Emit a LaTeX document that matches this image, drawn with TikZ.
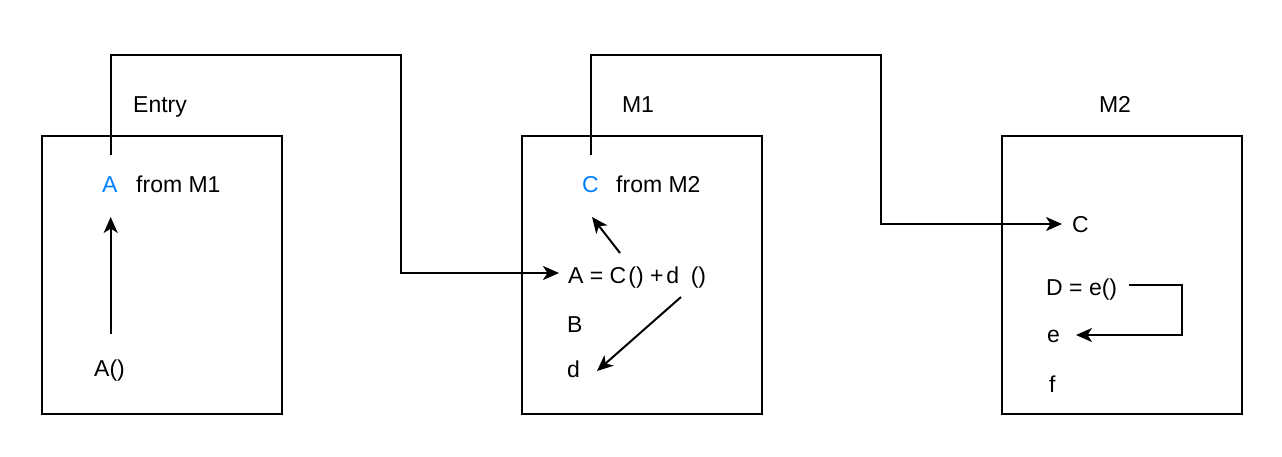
\documentclass[tikz,border=0pt]{standalone}
\usepackage{fontspec}
\setmainfont{Liberation Sans}
\usetikzlibrary{arrows.meta}
\definecolor{linkblue}{RGB}{0,127,255}
\tikzset{
  modbox/.style={draw, line width=2pt, anchor=north west, minimum width=240pt, minimum height=278pt, inner sep=0pt},
  txt/.style={anchor=base west, inner sep=0pt, font=\fontsize{23}{27}\selectfont},
  ttl/.style={anchor=base, inner sep=0pt, font=\fontsize{23}{27}\selectfont},
  conn/.style={line width=2pt},
  arr/.style={line width=2pt, -{Stealth[length=16pt,width=14pt,inset=4.5pt]}},
}
\begin{document}
\begin{tikzpicture}[x=1pt,y=-1pt]
\useasboundingbox (0,0) rectangle (1282,456);
% boxes
\node[modbox] (entrybox) at (41,135) {};
\node[modbox] (m1box) at (521,135) {};
\node[modbox] (m2box) at (1001,135) {};
% titles
\node[ttl] (entrytitle) at (160,112) {Entry};
\node[ttl] (m1title) at (638,112) {M1};
\node[ttl] (m2title) at (1115,112) {M2};
% Entry contents
\node[txt, text=linkblue] (ea) at (102,192) {A};
\node[txt] (efrom) at (136,192) {from M1};
\node[txt] (ecall) at (94,376) {A()};
% M1 contents
\node[txt, text=linkblue] (mc) at (582,192) {C};
\node[txt] (mfrom) at (616,192) {from M2};
\node[txt] (mexpr) at (568,283) {A = C\kern2pt() +\kern3pt d\enspace()};
\node[txt] (mb) at (567,332) {B};
\node[txt] (md) at (567,377) {d};
% M2 contents
\node[txt] (nc) at (1072,232) {C};
\node[txt] (nd) at (1046,295) {D = e()};
\node[txt] (ne) at (1047,342) {e};
\node[txt] (nf) at (1049,392) {f};
% connector points
\coordinate (s1) at (110.7,155);
\coordinate (t1) at (559,273);
\coordinate (s2) at (590.7,155);
\coordinate (t2) at (1062,224);
% connectors between modules
\draw[arr] (s1) -- (110.7,55) -- (400.7,55) -- (400.7,273) -- (t1);
\draw[arr] (s2) -- (590.7,55) -- (880.7,55) -- (880.7,224) -- (t2);
% inner arrows
\draw[arr] (110.7,334) -- (110.7,217);
\draw[arr] (620,253) -- (592,217);
\draw[arr] (681,297) -- (597,371);
\draw[arr] (1129,285) -- (1182,285) -- (1182,335) -- (1076,335);
\end{tikzpicture}
\end{document}
